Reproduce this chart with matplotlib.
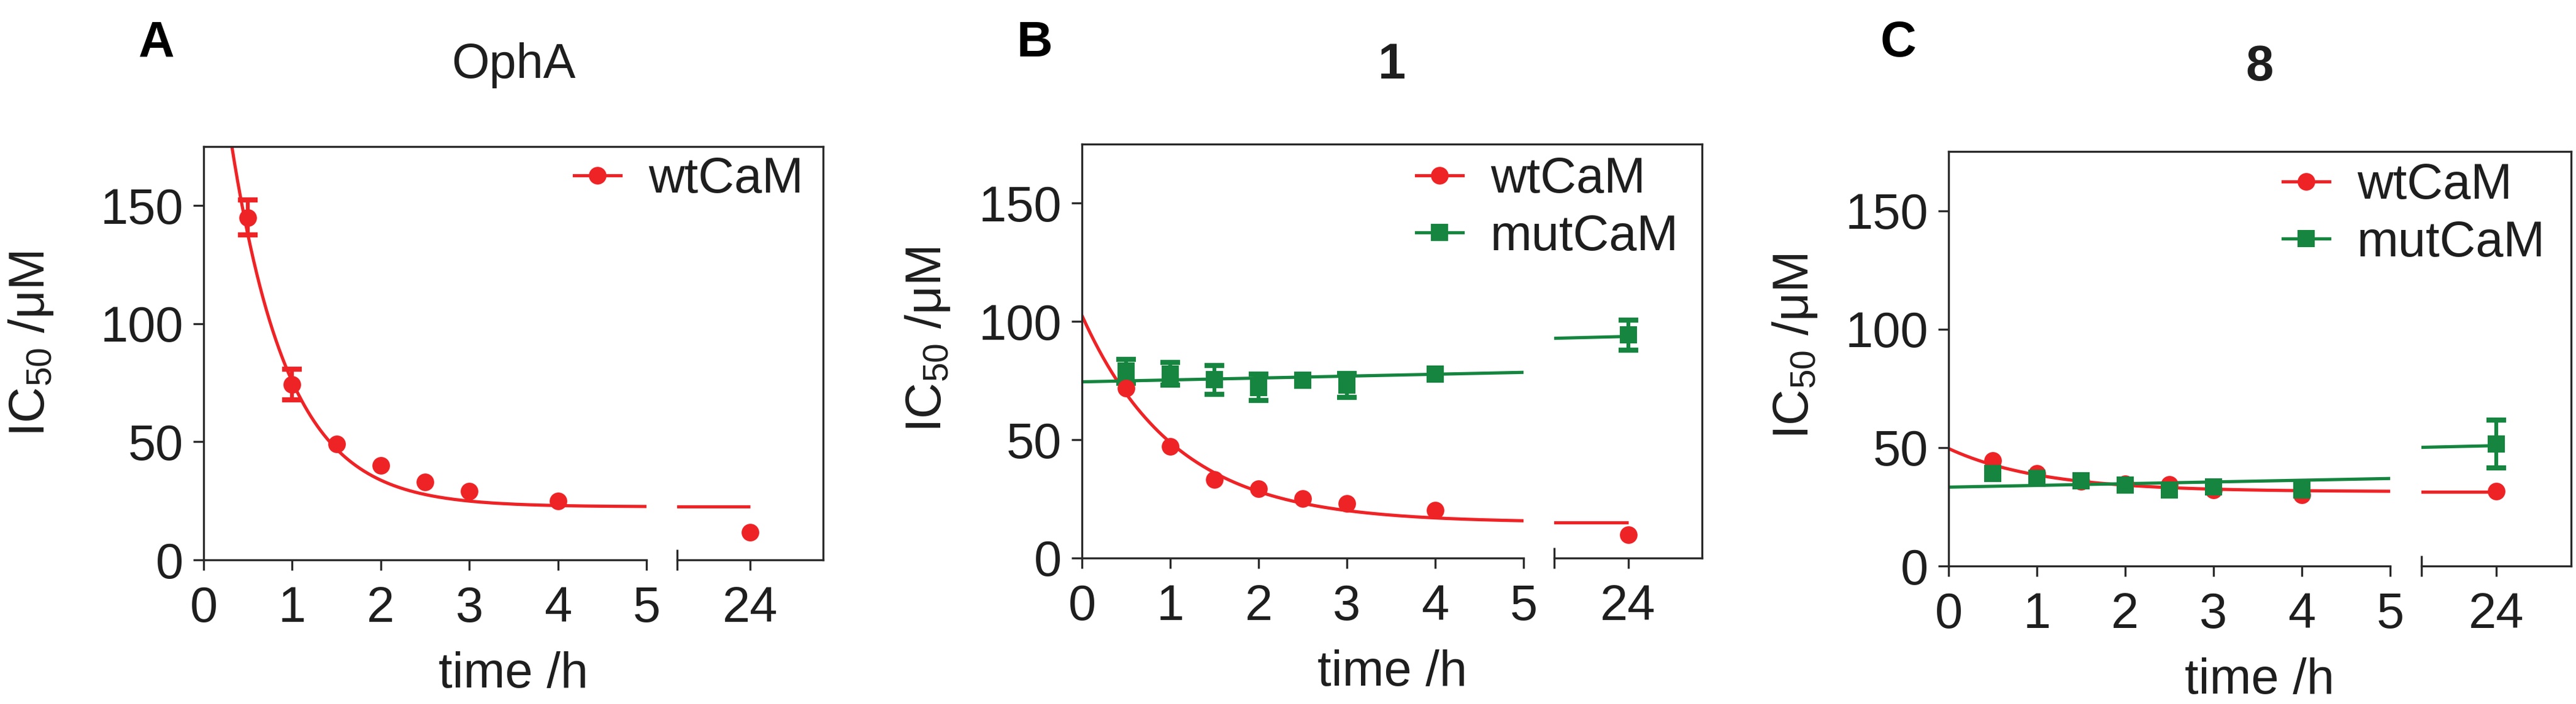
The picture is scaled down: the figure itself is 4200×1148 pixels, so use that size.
import numpy as np
import matplotlib
matplotlib.use("Agg")
import matplotlib.pyplot as plt
from matplotlib.lines import Line2D

plt.rcParams['font.family'] = ['Liberation Sans', 'DejaVu Sans']
plt.rcParams['mathtext.fontset'] = 'custom'
plt.rcParams['mathtext.rm'] = 'Liberation Sans'
plt.rcParams['mathtext.it'] = 'Liberation Sans:italic'
plt.rcParams['mathtext.bf'] = 'Liberation Sans:bold'

# ---------------- data ----------------
nan = np.nan
time_h = [0.5, 1, 1.5, 2, 2.5, 3, 4, 24]

# A: OphA
opha_wt = [145.0, 74.2, 49.1, 40.1, 33.1, 29.2, 24.8, 11.8]
opha_wt_err = [7.5, 6.5, nan, nan, nan, nan, nan, nan]

# B: compound 1
c1_wt = [71.9, 47.2, 33.1, 29.2, 25.2, 23.1, 20.3, 9.8]
c1_wt_err = [nan] * 8
c1_mut = [79.0, 77.9, 75.4, 72.2, 75.3, 73.0, 77.9, 94.3]
c1_mut_err = [5.0, 4.7, 6.1, 5.5, nan, 5.0, nan, 6.3]

# C: compound 8
c8_wt = [44.4, 39.2, 35.7, 34.8, 34.4, 32.2, 30.0, 31.6]
c8_wt_err = [nan] * 8
c8_mut = [39.2, 37.0, 35.9, 34.2, 32.2, 33.3, 32.2, 51.5]
c8_mut_err = [nan, nan, nan, nan, nan, nan, nan, 10.0]

# fitted models (one-phase decay: plateau + span*exp(-k t); linear: a + b t)
opha_wt_fit = dict(kind='decay', plateau=22.5, span=250.0, k=1.55)
c1_wt_fit = dict(kind='decay', plateau=15.0, span=87.6, k=0.95)
c1_mut_fit = dict(kind='linear', a=74.5, b=0.80)
c8_wt_fit = dict(kind='decay', plateau=31.4, span=18.2, k=0.95)
c8_mut_fit = dict(kind='linear', a=33.3, b=0.73)

y_ticks = [0, 50, 100, 150]
x_ticks_early = [0, 1, 2, 3, 4, 5]
x_ticks_late = [24]
legend_labels = ['wtCaM', 'mutCaM']

RED = '#ee2326'
GREEN = '#15853f'
INK = '#1e1e1e'
SPINE = '#2a2a2a'

W, H, DPI = 4200, 1148, 300
fig = plt.figure(figsize=(W / DPI, H / DPI), dpi=DPI)
fig.patch.set_facecolor('white')

FS = 19.5
TICKLEN = 4.1
LW_AX = 0.8
LW_FIT = 1.25
MS = 6.9


def model(fit, t):
    t = np.asarray(t, float)
    if fit['kind'] == 'decay':
        return fit['plateau'] + fit['span'] * np.exp(-fit['k'] * t)
    return fit['a'] + fit['b'] * t


def rect(l, r, top, bot):
    return [l / W, 1 - bot / H, (r - l) / W, (bot - top) / H]


panels = [
    dict(letter='A', title='OphA', tbold=False, left=332, s1r=1054, s2l=1104, right=1342,
         top=239, bot=913, ylx=72, yly=561, lx=226, tb=127, leg=(1310, 255),
         series=[(opha_wt, opha_wt_err, opha_wt_fit, RED, 'o')]),
    dict(letter='B', title='1', tbold=True, left=1764, s1r=2484, s2l=2534, right=2775,
         top=235, bot=910, ylx=1534, yly=554, lx=1658, tb=128, leg=(2737, 255),
         series=[(c1_wt, c1_wt_err, c1_wt_fit, RED, 'o'),
                 (c1_mut, c1_mut_err, c1_mut_fit, GREEN, 's')]),
    dict(letter='C', title='8', tbold=True, left=3177, s1r=3897, s2l=3948, right=4192,
         top=247, bot=923, ylx=2948, yly=565, lx=3066, tb=131, leg=(4150, 265),
         series=[(c8_wt, c8_wt_err, c8_wt_fit, RED, 'o'),
                 (c8_mut, c8_mut_err, c8_mut_fit, GREEN, 's')]),
]

t_all = np.asarray(time_h, float)
t_fit = np.linspace(0, t_all.max(), 2000)

for p in panels:
    ax1 = fig.add_axes(rect(p['left'], p['s1r'], p['top'], p['bot']))
    ax2 = fig.add_axes(rect(p['s2l'], p['right'], p['top'], p['bot']))
    frame = fig.add_axes(rect(p['left'], p['right'], p['top'], p['bot']))
    frame.set_zorder(5)
    for a in (ax1, ax2, frame):
        a.patch.set_visible(False)

    for ax in (ax1, ax2):
        for vals, err, fit, col, mk in p['series']:
            v = np.asarray(vals, float)
            e = np.asarray(err, float)
            ax.plot(t_fit, model(fit, t_fit), color=col, lw=LW_FIT, zorder=2,
                    solid_capstyle='butt')
            m = ~np.isnan(e)
            if m.any():
                ax.errorbar(t_all[m], v[m], yerr=e[m], fmt='none', ecolor=col,
                            elinewidth=1.5, capsize=3.8, capthick=2.0, zorder=2.5)
            ax.plot(t_all, v, ls='none', marker=mk, ms=MS, mew=0, color=col, zorder=3)
        ax.set_ylim(0, 175)
        for s in ax.spines.values():
            s.set_color(SPINE)
            s.set_linewidth(LW_AX)
        ax.spines['top'].set_visible(False)
        ax.spines['right'].set_visible(False)
        ax.tick_params(axis='both', which='both', colors=SPINE, labelcolor=INK,
                       width=LW_AX, labelsize=FS)
        ax.tick_params(axis='x', which='major', direction='out', length=TICKLEN, pad=6.0)

    ax1.set_xlim(0, 5)
    ax1.set_xticks(x_ticks_early)
    ax1.set_xticks([5], minor=True)
    ax1.tick_params(axis='x', which='minor', direction='in', length=TICKLEN)
    ax1.set_yticks(y_ticks)
    ax1.tick_params(axis='y', which='major', direction='out', length=TICKLEN, pad=3.8)

    ax2.set_xlim(23, 25)
    ax2.set_xticks(x_ticks_late)
    ax2.set_xticks([23], minor=True)
    ax2.tick_params(axis='x', which='minor', direction='inout', length=2 * TICKLEN)
    ax2.spines['left'].set_visible(False)
    ax2.set_yticks([])

    frame.set_xticks([])
    frame.set_yticks([])
    frame.spines['left'].set_visible(False)
    frame.spines['bottom'].set_visible(False)
    for s in ('top', 'right'):
        frame.spines[s].set_color(SPINE)
        frame.spines[s].set_linewidth(LW_AX)

    # legend
    handles = []
    for vals, err, fit, col, mk in p['series']:
        handles.append(Line2D([], [], color=col, lw=LW_FIT, marker=mk, ms=MS, mew=0))
    lx, ly = p['leg']
    frame.legend(handles, legend_labels[:len(handles)], loc='upper right',
                 bbox_to_anchor=(lx / W, 1 - ly / H), bbox_transform=fig.transFigure,
                 frameon=False, fontsize=FS, handlelength=0.94, handletextpad=0.55,
                 labelspacing=0.22, borderpad=0, borderaxespad=0, labelcolor=INK)

    cx = (p['left'] + p['right']) / 2
    # titles, panel letters, axis labels
    fig.text(cx / W, 1 - p['tb'] / H, p['title'], ha='center', va='baseline',
             fontsize=19 if not p['tbold'] else 19.5,
             fontweight='bold' if p['tbold'] else 'normal', color=INK)
    fig.text(p['lx'] / W, 1 - 92 / H, p['letter'], ha='left', va='baseline',
             fontsize=19.5, fontweight='bold', color='black')
    fig.text(cx / W, 1 - (p['bot'] + 208) / H, 'time /h', ha='center', va='baseline',
             fontsize=FS, color=INK)
    fig.text(p['ylx'] / W, 1 - p['yly'] / H, r'IC$_{50}$ /μM', rotation=90,
             rotation_mode='anchor', ha='center', va='baseline', fontsize=FS, color=INK)

fig.savefig('out.png', dpi=DPI, facecolor='white')
